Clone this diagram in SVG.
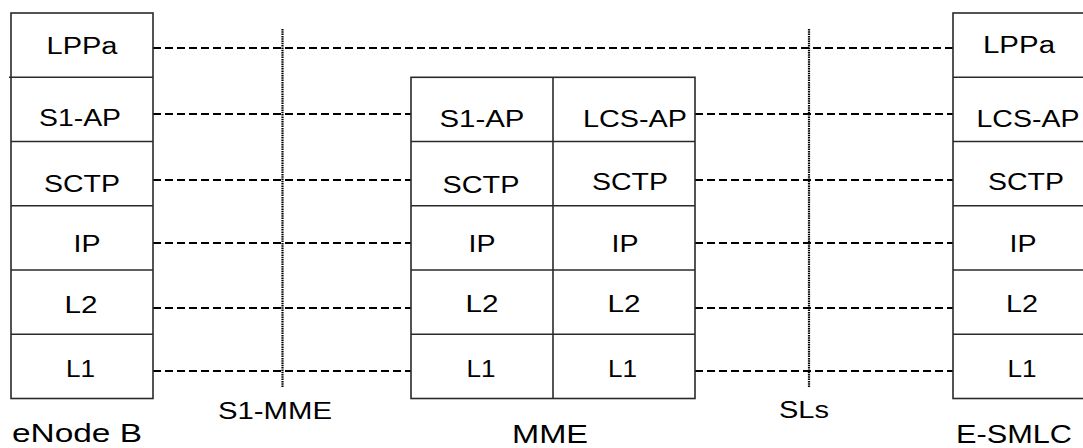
<svg xmlns="http://www.w3.org/2000/svg" width="1083" height="448" viewBox="0 0 1083 448">
  <style>
    .box { fill: #ffffff; stroke: #2a2a2a; stroke-width: 1.6; }
    .div { stroke: #2a2a2a; stroke-width: 1.6; }
    .link { stroke: #000000; stroke-width: 2; stroke-dasharray: 8 4; fill: none; }
    .ref { stroke: #000000; stroke-width: 2.2; stroke-dasharray: 1.5 0.8; fill: none; }
    text { font-family: "Liberation Sans", Arial, sans-serif; fill: #000000; text-anchor: middle; }
    .lbl { font-size: 23px; }
    .name { font-size: 26px; }
  </style>
  <rect width="1083" height="448" fill="#ffffff"/>

  <!-- peer-to-peer protocol connectors and interface reference lines -->
  <g id="connectors">
    <line class="link" x1="153" y1="48" x2="953" y2="48"/>
    <line class="link" x1="153" y1="114" x2="411" y2="114"/>
    <line class="link" x1="153" y1="180" x2="411" y2="180"/>
    <line class="link" x1="153" y1="243" x2="411" y2="243"/>
    <line class="link" x1="153" y1="308" x2="411" y2="308"/>
    <line class="link" x1="153" y1="371" x2="411" y2="371"/>
    <line class="link" x1="695" y1="114" x2="953" y2="114"/>
    <line class="link" x1="695" y1="180" x2="953" y2="180"/>
    <line class="link" x1="695" y1="243" x2="953" y2="243"/>
    <line class="link" x1="695" y1="308" x2="953" y2="308"/>
    <line class="link" x1="695" y1="371" x2="953" y2="371"/>
    <line class="ref" x1="282.5" y1="29" x2="282.5" y2="387"/>
    <line class="ref" x1="809" y1="29" x2="809" y2="387"/>
    <text class="lbl" x="275" y="419" textLength="114" lengthAdjust="spacingAndGlyphs">S1-MME</text>
    <text class="lbl" x="804" y="418" textLength="50" lengthAdjust="spacingAndGlyphs">SLs</text>
  </g>

  <!-- eNode B protocol stack -->
  <g id="enodeb">
    <rect class="box" x="11" y="13" width="142" height="385.5"/>
    <line class="div" x1="9" y1="77.3" x2="153" y2="77.3"/>
    <line class="div" x1="11" y1="141.5" x2="153" y2="141.5"/>
    <line class="div" x1="11" y1="205.7" x2="153" y2="205.7"/>
    <line class="div" x1="11" y1="270" x2="153" y2="270"/>
    <line class="div" x1="11" y1="334.2" x2="153" y2="334.2"/>
    <text class="lbl" x="82" y="54" textLength="71" lengthAdjust="spacingAndGlyphs">LPPa</text>
    <text class="lbl" x="80" y="126" textLength="82" lengthAdjust="spacingAndGlyphs">S1-AP</text>
    <text class="lbl" x="82" y="192" textLength="76" lengthAdjust="spacingAndGlyphs">SCTP</text>
    <text class="lbl" x="87" y="252" textLength="27" lengthAdjust="spacingAndGlyphs">IP</text>
    <text class="lbl" x="81" y="313" textLength="33" lengthAdjust="spacingAndGlyphs">L2</text>
    <text class="lbl" x="80.5" y="377" textLength="29" lengthAdjust="spacingAndGlyphs">L1</text>
    <text class="name" x="77" y="442" textLength="130" lengthAdjust="spacingAndGlyphs">eNode B</text>
  </g>

  <!-- MME protocol stacks (S1 side and SLs side) -->
  <g id="mme">
    <rect class="box" x="411" y="77.3" width="284" height="321.2"/>
    <line class="div" x1="553" y1="77.3" x2="553" y2="398.5"/>
    <line class="div" x1="411" y1="141.5" x2="695" y2="141.5"/>
    <line class="div" x1="411" y1="205.7" x2="695" y2="205.7"/>
    <line class="div" x1="411" y1="270" x2="695" y2="270"/>
    <line class="div" x1="411" y1="334.2" x2="695" y2="334.2"/>
    <text class="lbl" x="482" y="127" textLength="85" lengthAdjust="spacingAndGlyphs">S1-AP</text>
    <text class="lbl" x="481" y="193" textLength="77" lengthAdjust="spacingAndGlyphs">SCTP</text>
    <text class="lbl" x="482" y="252" textLength="27" lengthAdjust="spacingAndGlyphs">IP</text>
    <text class="lbl" x="482" y="312" textLength="33" lengthAdjust="spacingAndGlyphs">L2</text>
    <text class="lbl" x="481" y="377" textLength="29" lengthAdjust="spacingAndGlyphs">L1</text>
    <text class="lbl" x="635" y="127" textLength="104" lengthAdjust="spacingAndGlyphs">LCS-AP</text>
    <text class="lbl" x="630" y="190" textLength="76" lengthAdjust="spacingAndGlyphs">SCTP</text>
    <text class="lbl" x="625" y="252" textLength="27" lengthAdjust="spacingAndGlyphs">IP</text>
    <text class="lbl" x="624" y="312" textLength="33" lengthAdjust="spacingAndGlyphs">L2</text>
    <text class="lbl" x="622.5" y="377" textLength="29" lengthAdjust="spacingAndGlyphs">L1</text>
    <text class="name" x="550" y="443" textLength="76" lengthAdjust="spacingAndGlyphs">MME</text>
  </g>

  <!-- E-SMLC protocol stack -->
  <g id="esmlc">
    <rect class="box" x="953" y="13" width="142" height="385.5"/>
    <line class="div" x1="953" y1="77.3" x2="1095" y2="77.3"/>
    <line class="div" x1="953" y1="141.5" x2="1095" y2="141.5"/>
    <line class="div" x1="953" y1="205.7" x2="1095" y2="205.7"/>
    <line class="div" x1="953" y1="270" x2="1095" y2="270"/>
    <line class="div" x1="953" y1="334.2" x2="1095" y2="334.2"/>
    <text class="lbl" x="1019" y="53" textLength="72" lengthAdjust="spacingAndGlyphs">LPPa</text>
    <text class="lbl" x="1028" y="127" textLength="103" lengthAdjust="spacingAndGlyphs">LCS-AP</text>
    <text class="lbl" x="1026" y="190" textLength="76" lengthAdjust="spacingAndGlyphs">SCTP</text>
    <text class="lbl" x="1023" y="252" textLength="27" lengthAdjust="spacingAndGlyphs">IP</text>
    <text class="lbl" x="1022" y="312" textLength="32" lengthAdjust="spacingAndGlyphs">L2</text>
    <text class="lbl" x="1022" y="377" textLength="29" lengthAdjust="spacingAndGlyphs">L1</text>
    <text class="name" x="1014" y="443" textLength="116" lengthAdjust="spacingAndGlyphs">E-SMLC</text>
  </g>
</svg>
